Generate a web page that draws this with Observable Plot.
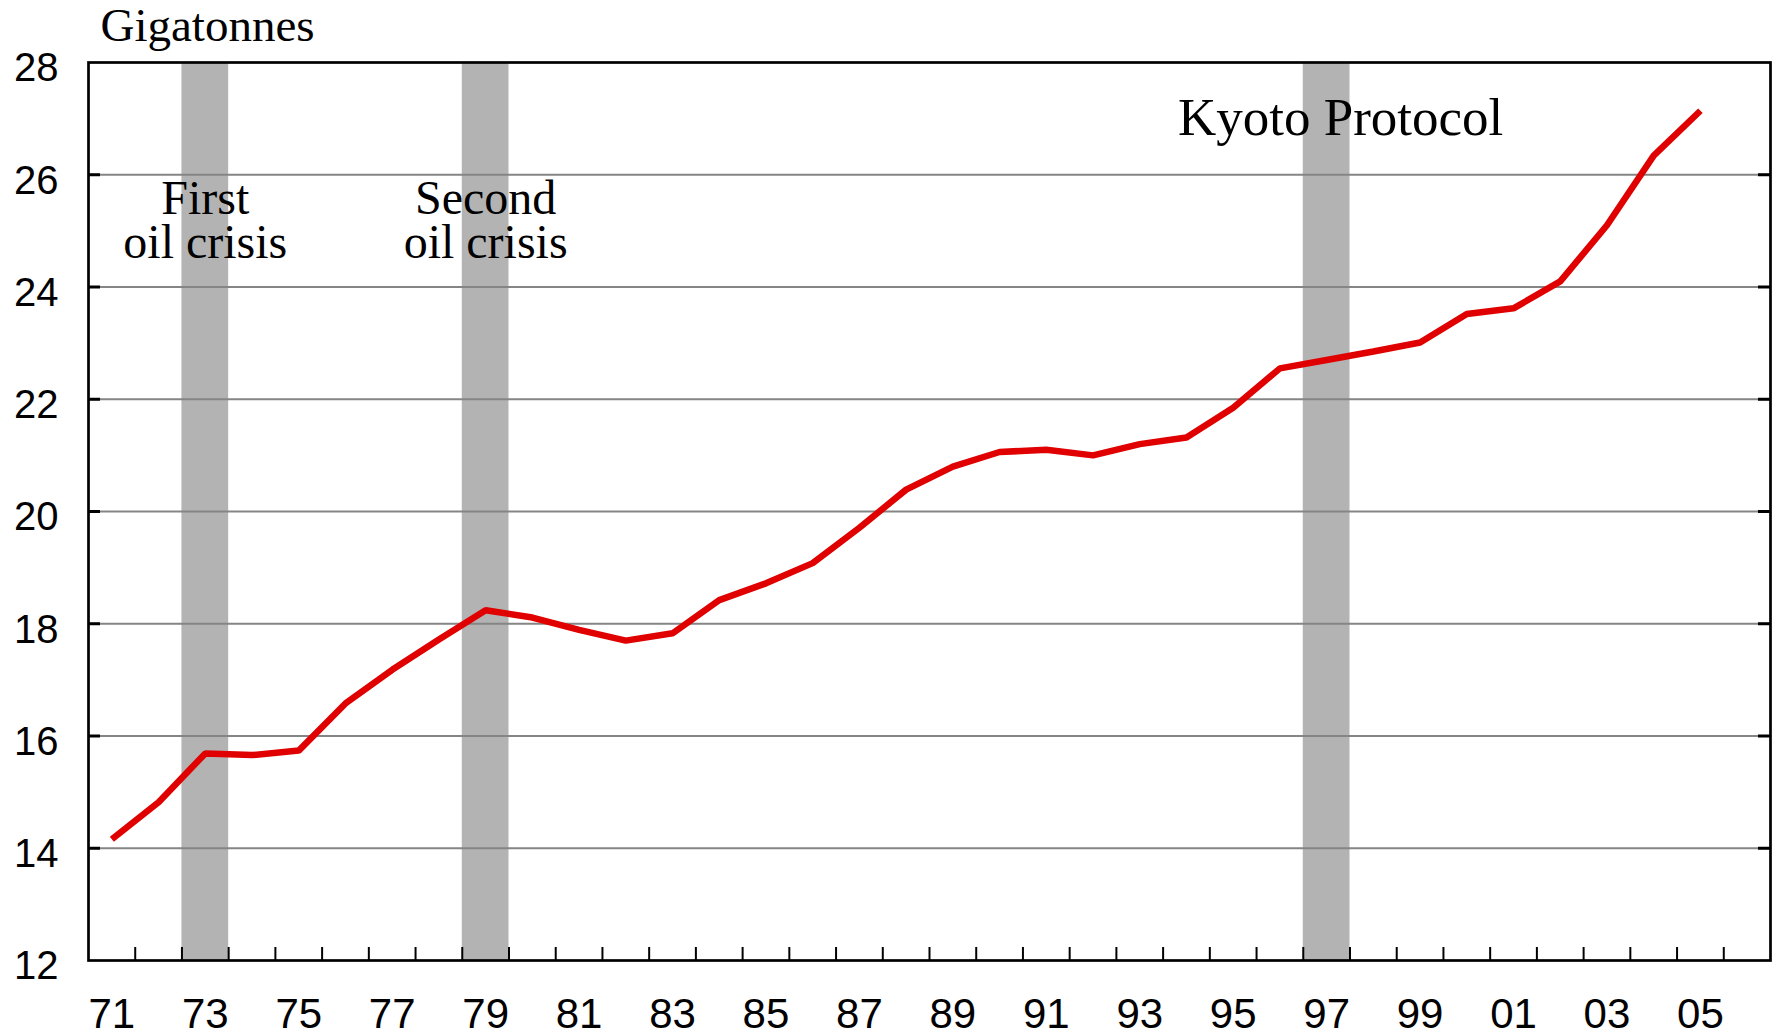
<!DOCTYPE html>
<html>
<head>
<meta charset="utf-8">
<script src="https://cdn.jsdelivr.net/npm/d3@7"></script>
<script src="https://cdn.jsdelivr.net/npm/@observablehq/plot@0.6"></script>
<style>
  html, body { margin: 0; padding: 0; background: #fff; }
  #chart svg { display: block; }
</style>
</head>
<body>
<div id="chart"></div>
<script>
// ---- data ----
const years = [1971,1972,1973,1974,1975,1976,1977,1978,1979,1980,1981,1982,1983,1984,1985,1986,1987,1988,1989,1990,1991,1992,1993,1994,1995,1996,1997,1998,1999,2000,2001,2002,2003,2004,2005];
const emissions = [14.16,14.82,15.69,15.66,15.74,16.58,17.18,17.72,18.24,18.11,17.89,17.70,17.83,18.42,18.72,19.08,19.71,20.39,20.80,21.06,21.10,21.00,21.20,21.32,21.85,22.55,22.70,22.85,23.01,23.52,23.62,24.10,25.10,26.34,27.14];
const shadedYears = [1973, 1979, 1997];
const xLabelYears = [1971,1973,1975,1977,1979,1981,1983,1985,1987,1989,1991,1993,1995,1997,1999,2001,2003,2005];
const xTickLabels = ["71","73","75","77","79","81","83","85","87","89","91","93","95","97","99","01","03","05"];
const yTickValues = [12,14,16,18,20,22,24,26,28];
const yTickLabels = ["12","14","16","18","20","22","24","26","28"];
const gridValues = [14,16,18,20,22,24,26];
const xTickBoundaries = d3.range(1971.5, 2006, 1);
const annoText = ["First\noil crisis", "Second\noil crisis", "Kyoto Protocol"];
const annoX = [1973, 1979, 1997.3];
const annoY = [25.84, 25.84, 27.32];
const annoSize = [48, 48, 53];
const unitLabel = "Gigatonnes";

const series = years.map((y, i) => ({year: y, value: emissions[i]}));
const annos = annoText.map((t, i) => ({text: t, x: annoX[i], y: annoY[i], size: annoSize[i]}));

const W = 1778, H = 1034;
const mL = 88, mR = 8, mT = 62, mB = 74;
const frameW = W - mL - mR, frameH = H - mT - mB;
const serif = "'Liberation Serif', 'Times New Roman', serif";

const chart = Plot.plot({
  width: W,
  height: H,
  marginLeft: mL,
  marginRight: mR,
  marginTop: mT,
  marginBottom: mB,
  style: {fontFamily: "'Liberation Sans', Arial, sans-serif", background: "#fff", overflow: "visible"},
  x: {domain: [1970.5, 2006.5], label: null},
  y: {domain: [12, 28], label: null},
  marks: [
    Plot.rect(shadedYears, {x1: d => d - 0.5, x2: d => d + 0.5, fill: "#b3b3b3"}),
    Plot.ruleY(gridValues, {stroke: "#858585", strokeWidth: 2}),
    Plot.ruleY(gridValues, {stroke: "#000", strokeWidth: 3, insetRight: frameW - 12}),
    Plot.ruleY(gridValues, {stroke: "#000", strokeWidth: 3, insetLeft: frameW - 12}),
    Plot.ruleX(xTickBoundaries, {stroke: "#000", strokeWidth: 2, insetTop: frameH - 13}),
    Plot.line(series, {x: "year", y: "value", stroke: "#e00000", strokeWidth: 6.5, strokeLinecap: "butt", strokeLinejoin: "miter"}),
    Plot.frame({stroke: "#000", strokeWidth: 2.7}),
    Plot.axisY(yTickValues, {tickSize: 0, tickPadding: 30, fontSize: 40, dy: 6, fill: "#000",
      tickFormat: d => yTickLabels[yTickValues.indexOf(d)]}),
    Plot.axisX(xLabelYears, {tickSize: 0, tickPadding: 38, fontSize: 42, fill: "#000",
      tickFormat: d => xTickLabels[xLabelYears.indexOf(d)]}),
    Plot.text(annos, {x: "x", y: "y", text: "text", fontSize: d => d.size, fontFamily: serif,
      textAnchor: "middle", lineAnchor: "top", lineHeight: 0.9, fill: "#000"}),
    Plot.text([unitLabel], {frameAnchor: "top-left", text: d => d, dx: 12, dy: -55, fontSize: 47,
      fontFamily: serif, textAnchor: "start", lineAnchor: "top", fill: "#000"})
  ]
});
document.getElementById("chart").appendChild(chart);
</script>
</body>
</html>
